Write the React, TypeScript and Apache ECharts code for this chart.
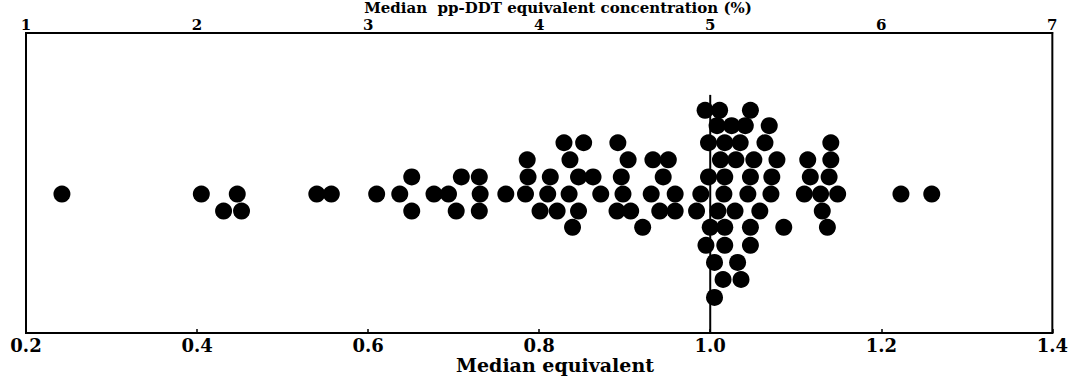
import React, { useEffect, useRef } from "react";
import * as echarts from "echarts";

// Bottom axis: median equivalent; top axis: median pp-DDT equivalent concentration (%)
const bottomRange = [0.2, 1.4];
const bottomStep = 0.2;
const topRange = [1, 7];
const topStep = 1;

// Beeswarm stacking level of each row (row 0 is the centre line)
const rowLevels = [4.9, 4.0, 3.0, 2.0, 1.0, 0, -1.0, -1.95, -3.0, -4.0, -5.0, -6.05];

// Median equivalent of each dot, by row
const rowPlus5 = [0.994, 1.011, 1.047];
const rowPlus4 = [1.008, 1.025, 1.041, 1.069];
const rowPlus3 = [0.829, 0.852, 0.892, 0.998, 1.017, 1.035, 1.064, 1.141];
const rowPlus2 = [0.786, 0.836, 0.904, 0.933, 0.951, 1.012, 1.03, 1.051, 1.078, 1.114, 1.141];
const rowPlus1 = [0.651, 0.709, 0.73, 0.787, 0.813, 0.846, 0.863, 0.896, 0.945, 0.998, 1.017, 1.047, 1.072, 1.117, 1.139];
const rowZero = [0.242, 0.405, 0.447, 0.54, 0.557, 0.61, 0.637, 0.677, 0.694, 0.731, 0.761, 0.784, 0.81, 0.835, 0.872, 0.898, 0.931, 0.959, 0.989, 1.016, 1.044, 1.071, 1.11, 1.129, 1.149, 1.223, 1.259];
const rowMinus1 = [0.431, 0.452, 0.651, 0.703, 0.73, 0.801, 0.821, 0.846, 0.891, 0.907, 0.941, 0.959, 0.984, 1.009, 1.029, 1.058, 1.131];
const rowMinus2 = [0.839, 0.921, 1.0, 1.017, 1.047, 1.086, 1.137];
const rowMinus3 = [0.995, 1.017, 1.047];
const rowMinus4 = [1.005, 1.032];
const rowMinus5 = [1.015, 1.036];
const rowMinus6 = [1.005];

const rows = [rowPlus5, rowPlus4, rowPlus3, rowPlus2, rowPlus1, rowZero, rowMinus1, rowMinus2, rowMinus3, rowMinus4, rowMinus5, rowMinus6];

const referenceValue = 1.0;
const referenceLineSpan = [-8.13, 5.8];
const levelRange = [-8.13, 9.42];

const topTitle = "Median  pp-DDT equivalent concentration (%)";
const bottomTitle = "Median equivalent";

const FONT = "'DejaVu Serif', 'Liberation Serif', serif";

export default function App() {
  const ref = useRef<HTMLDivElement>(null);

  useEffect(() => {
    if (!ref.current) return;
    const chart = echarts.init(ref.current, null, { renderer: "svg" });
    const points: number[][] = [];
    rows.forEach((r, i) => r.forEach((v) => points.push([v, rowLevels[i]])));

    chart.setOption({
      animation: false,
      backgroundColor: "#ffffff",
      grid: {
        left: 26,
        right: 15,
        top: 33,
        bottom: 43,
        show: true,
        borderColor: "#000",
        borderWidth: 2,
        backgroundColor: "transparent",
      },
      xAxis: [
        {
          type: "value",
          position: "bottom",
          min: bottomRange[0],
          max: bottomRange[1],
          interval: bottomStep,
          axisLine: { show: true, onZero: false, lineStyle: { color: "#000", width: 2 } },
          axisTick: { show: true, inside: true, length: 4, lineStyle: { color: "#000", width: 1.5 } },
          splitLine: { show: false },
          axisLabel: {
            color: "#000",
            fontFamily: FONT,
            fontWeight: "bold",
            fontSize: 18,
            lineHeight: 18,
            margin: 3,
            formatter: (v: number) => v.toFixed(1),
          },
        },
        {
          type: "value",
          position: "top",
          min: topRange[0],
          max: topRange[1],
          interval: topStep,
          axisLine: { show: true, onZero: false, lineStyle: { color: "#000", width: 2 } },
          axisTick: { show: false },
          splitLine: { show: false },
          axisLabel: {
            color: "#000",
            fontFamily: FONT,
            fontWeight: "bold",
            fontSize: 15,
            lineHeight: 15,
            margin: 1,
          },
        },
      ],
      yAxis: {
        type: "value",
        min: levelRange[0],
        max: levelRange[1],
        show: false,
      },
      graphic: [
        {
          type: "text",
          x: 558,
          y: 8,
          style: {
            text: topTitle,
            fill: "#000",
            font: `bold 15px ${FONT}`,
            lineHeight: 15,
            textAlign: "center",
            textVerticalAlign: "middle",
          },
        },
        {
          type: "text",
          x: 555,
          y: 365,
          style: {
            text: bottomTitle,
            fill: "#000",
            font: `bold 19px ${FONT}`,
            lineHeight: 19,
            textAlign: "center",
            textVerticalAlign: "middle",
          },
        },
      ],
      series: [
        {
          type: "line",
          xAxisIndex: 0,
          data: [
            [referenceValue, referenceLineSpan[0]],
            [referenceValue, referenceLineSpan[1]],
          ],
          symbol: "none",
          lineStyle: { color: "#000", width: 2 },
          silent: true,
          z: 1,
        },
        {
          type: "scatter",
          xAxisIndex: 0,
          data: points,
          symbol: "circle",
          symbolSize: 17,
          itemStyle: { color: "#000", opacity: 1 },
          z: 2,
        },
      ],
    });
    return () => chart.dispose();
  }, []);

  return (
    <div
      ref={ref}
      style={{ position: "absolute", left: 0, top: 0, width: 1071, height: 376 }}
    />
  );
}
